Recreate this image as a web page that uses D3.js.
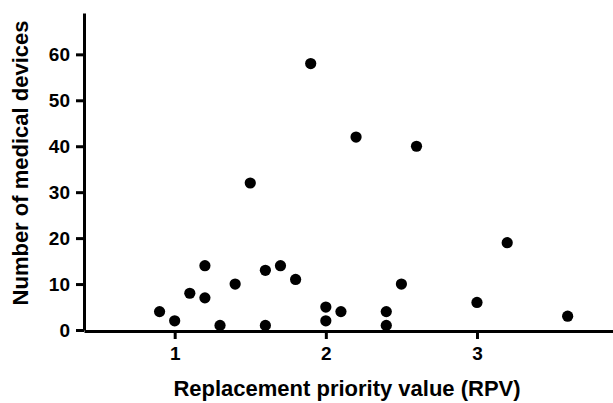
<!DOCTYPE html>
<html>
<head>
<meta charset="utf-8">
<script src="https://cdn.jsdelivr.net/npm/d3@7"></script>
<style>
  body { margin: 0; background: #fff; }
  svg text { font-family: "Liberation Sans", Arial, sans-serif; font-weight: bold; fill: #000; }
  .axis path, .axis line { stroke: #000; stroke-width: 3px; }
  .title { font-size: 22px; }
</style>
</head>
<body>
<svg id="chart" width="613" height="403"></svg>
<script>
// RPV (x) vs number of medical devices (y), one entry per point
const rpv     = [0.9, 1.0, 1.1, 1.2, 1.2, 1.3, 1.4, 1.5, 1.6, 1.6, 1.7, 1.8, 1.9, 2.0, 2.0, 2.1, 2.2, 2.4, 2.4, 2.5, 2.6, 3.0, 3.2, 3.6];
const devices = [4,   2,   8,   14,  7,   1,   10,  32,  13,  1,   14,  11,  58,  5,   2,   4,   42,  4,   1,   10,  40,  6,   19,  3];
const xTicks = [1, 2, 3];
const yTicks = [0, 10, 20, 30, 40, 50, 60];

const svg = d3.select('#chart');

const x = d3.scaleLinear().domain([0.4, 3.9]).range([84, 613]);
const y = d3.scaleLinear().domain([0, 69]).range([330, 13]);

svg.append('g')
  .attr('class', 'axis')
  .attr('transform', 'translate(0,331)')
  .call(d3.axisBottom(x).tickValues(xTicks).tickFormat(d3.format('d')).tickSize(8).tickSizeOuter(0).tickPadding(8))
  .attr('font-size', 19);

svg.append('g')
  .attr('class', 'axis')
  .attr('transform', 'translate(84,0)')
  .call(d3.axisLeft(y).tickValues(yTicks).tickSize(8).tickSizeOuter(0).tickPadding(6))
  .attr('font-size', 19);

svg.append('g')
  .selectAll('circle')
  .data(rpv)
  .enter().append('circle')
  .attr('cx', (d) => x(d))
  .attr('cy', (d, i) => y(devices[i]))
  .attr('r', 5.6)
  .attr('fill', '#000');

svg.append('text')
  .attr('class', 'title')
  .attr('x', 347)
  .attr('y', 396)
  .attr('text-anchor', 'middle')
  .text('Replacement priority value (RPV)');

svg.append('text')
  .attr('class', 'title')
  .attr('transform', 'translate(28,163) rotate(-90)')
  .attr('text-anchor', 'middle')
  .text('Number of medical devices');
</script>
</body>
</html>
